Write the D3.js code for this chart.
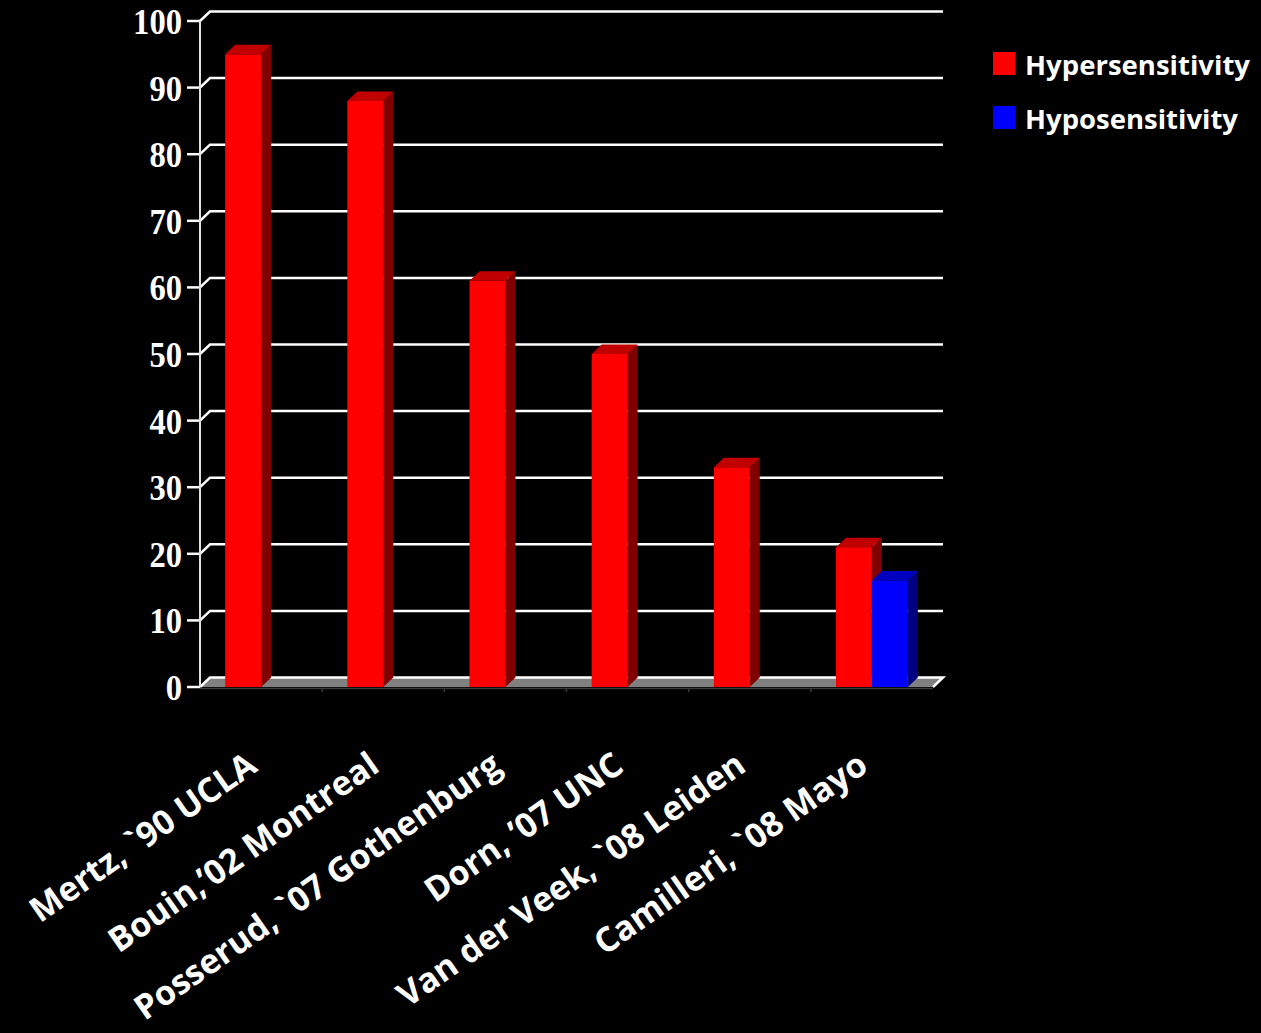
<!DOCTYPE html>
<html>
<head>
<meta charset="utf-8">
<script src="https://cdn.jsdelivr.net/npm/d3@7/dist/d3.min.js"></script>
<style>
  html, body { margin: 0; padding: 0; background: #000; }
  svg { display: block; }
</style>
</head>
<body>
<svg id="chart" width="1261" height="1033"></svg>
<script>
// ---- data ----
const categories = ["Mertz, `90 UCLA", "Bouin,\u201902 Montreal", "Posserud, `07 Gothenburg", "Dorn, \u201907 UNC", "Van der Veek, `08 Leiden", "Camilleri, `08 Mayo"];
const seriesNames = ["Hypersensitivity", "Hyposensitivity"];
const hyperValues = [95, 88, 61, 50, 33, 21];
const hypoValues = [null, null, null, null, null, 16];
const yTicks = [0, 10, 20, 30, 40, 50, 60, 70, 80, 90, 100];

// ---- layout ----
const svg = d3.select("#chart");
const W = 1261, H = 1033;
svg.append("rect").attr("width", W).attr("height", H).attr("fill", "#000");

const x0 = 200, x1 = 933;
const yBottom = 687, yTop = 21;
const DX = 10, DY = 9.5;

const y = d3.scaleLinear().domain([0, 100]).range([yBottom, yTop]);
const x = d3.scaleBand().domain(categories).range([x0, x1]).padding(0);
const xs = d3.scaleBand().domain(seriesNames).range([0, x.bandwidth()]).paddingInner(0).paddingOuter(0.7);

const colors = {
  "Hypersensitivity": { front: "#ff0000", side: "#800000", top: "#c00000" },
  "Hyposensitivity": { front: "#0000ff", side: "#000080", top: "#0000c0" }
};

// floor
const floor = svg.append("g");
floor.append("path")
  .attr("d", `M${x0},${y(0)} L${x1},${y(0)} L${x1 + DX},${y(0) - DY} L${x0 + DX},${y(0) - DY} Z`)
  .attr("fill", "#808080");
floor.append("path")
  .attr("d", `M${x0},${y(0)} L${x0 + DX},${y(0) - DY} L${x1 + DX},${y(0) - DY} L${x1},${y(0)}`)
  .attr("fill", "none").attr("stroke", "#ffffff").attr("stroke-width", 2.5);
floor.append("line")
  .attr("x1", x0).attr("x2", x1).attr("y1", y(0) + 1.5).attr("y2", y(0) + 1.5)
  .attr("stroke", "#3a3a3a").attr("stroke-width", 1.5);
categories.forEach((c, i) => {
  if (i === 0) return;
  floor.append("line")
    .attr("x1", x(c)).attr("x2", x(c)).attr("y1", y(0) + 1).attr("y2", y(0) + 5)
    .attr("stroke", "#3a3a3a").attr("stroke-width", 1.5);
});

// gridlines (walls) and ticks
const grid = svg.append("g");
yTicks.filter(t => t > 0).forEach(t => {
  const yy = y(t);
  grid.append("path")
    .attr("d", `M${x0},${yy} L${x0 + DX},${yy - DY} L${x1 + DX},${yy - DY}`)
    .attr("fill", "none").attr("stroke", "#ffffff").attr("stroke-width", 2.5);
});
yTicks.forEach(t => {
  grid.append("line")
    .attr("x1", x0 - 13).attr("x2", x0).attr("y1", y(t)).attr("y2", y(t))
    .attr("stroke", "#ffffff").attr("stroke-width", 2.5);
});
grid.append("line")
  .attr("x1", x0).attr("x2", x0).attr("y1", y(100)).attr("y2", y(0))
  .attr("stroke", "#e0e0e0").attr("stroke-width", 2);

// y tick labels
svg.append("g").selectAll("text").data(yTicks).join("text")
  .attr("x", x0 - 18)
  .attr("y", d => y(d) + 13)
  .attr("text-anchor", "end")
  .attr("font-family", "'Liberation Serif', 'Times New Roman', serif")
  .attr("font-weight", "bold")
  .attr("font-size", 36)
  .attr("fill", "#ffffff")
  .attr("textLength", d => String(d).length * 16.3)
  .attr("lengthAdjust", "spacingAndGlyphs")
  .text(d => d);

// bars
const barData = [];
categories.forEach((c, i) => {
  [["Hypersensitivity", hyperValues[i]], ["Hyposensitivity", hypoValues[i]]].forEach(([s, v]) => {
    if (v != null) barData.push({ c, s, v });
  });
});
const bars = svg.append("g");
barData.forEach(d => {
  const bx0 = x(d.c) + xs(d.s);
  const bx1 = bx0 + xs.bandwidth();
  const by = y(d.v), b0 = y(0);
  const col = colors[d.s];
  const g = bars.append("g");
  g.append("rect").attr("x", bx0).attr("y", by).attr("width", bx1 - bx0).attr("height", b0 - by)
    .attr("fill", col.front);
  g.append("path")
    .attr("d", `M${bx1},${by} L${bx1 + DX},${by - DY} L${bx1 + DX},${b0 - DY} L${bx1},${b0} Z`)
    .attr("fill", col.side);
  g.append("path")
    .attr("d", `M${bx0},${by} L${bx0 + DX},${by - DY} L${bx1 + DX},${by - DY} L${bx1},${by} Z`)
    .attr("fill", col.top);
});

// category labels
svg.append("g").selectAll("text").data(categories).join("text")
  .attr("transform", d => `translate(${x(d) + x.bandwidth() / 2 - 2},770) rotate(-35)`)
  .attr("text-anchor", "end")
  .attr("font-family", "'Open Sans', 'Noto Sans', sans-serif")
  .attr("font-weight", "bold")
  .attr("font-size", 34)
  .attr("fill", "#ffffff")
  .text(d => d);

// legend
const legend = svg.append("g");
const legendRows = [
  { name: seriesNames[0], y: 52, tl: 225 },
  { name: seriesNames[1], y: 106, tl: 213 }
];
legendRows.forEach(r => {
  legend.append("rect").attr("x", 993).attr("y", r.y).attr("width", 22).attr("height", 23)
    .attr("fill", colors[r.name].front);
  legend.append("text")
    .attr("x", 1025).attr("y", r.y + 23)
    .attr("font-family", "'Open Sans', 'Noto Sans', sans-serif")
    .attr("font-weight", "bold")
    .attr("font-size", 27)
    .attr("fill", "#ffffff")
    .attr("textLength", r.tl)
    .attr("lengthAdjust", "spacingAndGlyphs")
    .text(r.name);
});
</script>
</body>
</html>
